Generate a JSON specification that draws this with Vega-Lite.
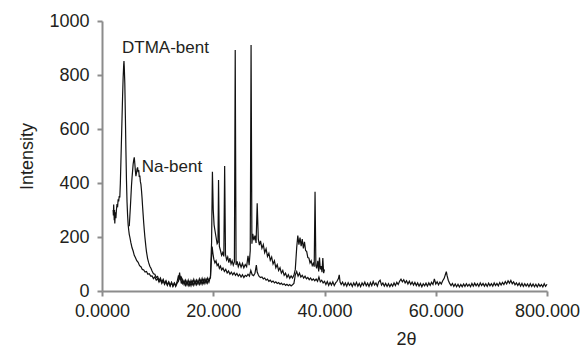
{
"$schema": "https://vega.github.io/schema/vega-lite/v6.json",
"width": 445, "height": 270,
"autosize": {"type": "none"},
"padding": {"left": 102, "top": 21, "right": 35, "bottom": 57},
"background": "white",
"config": {"view": {"stroke": null}, "font": "Liberation Sans"},
"datasets": {
"dtma": [
{"x":2.0,"y":300},{"x":2.05,"y":280},{"x":2.1,"y":320},{"x":2.2,"y":262},{"x":2.25,"y":300},{"x":2.3,"y":250},{"x":2.4,"y":292},{"x":2.5,"y":270},{"x":2.6,"y":302},{"x":2.7,"y":322},{"x":2.8,"y":310},{"x":2.9,"y":340},{"x":3.0,"y":332},{"x":3.1,"y":352},{"x":3.2,"y":346},{"x":3.3,"y":400},{"x":3.4,"y":480},{"x":3.5,"y":560},{"x":3.6,"y":640},{"x":3.7,"y":720},{"x":3.8,"y":790},{"x":3.9,"y":838},{"x":3.95,"y":852},{"x":4.0,"y":832},{"x":4.1,"y":770},{"x":4.2,"y":650},{"x":4.3,"y":520},{"x":4.4,"y":410},{"x":4.5,"y":330},{"x":4.6,"y":282},{"x":4.7,"y":246},{"x":4.8,"y":226},{"x":4.9,"y":210},{"x":5.0,"y":200},{"x":5.2,"y":178},{"x":5.4,"y":160},{"x":5.6,"y":148},{"x":5.8,"y":132},{"x":6.0,"y":124},{"x":6.25,"y":112},{"x":6.5,"y":106},{"x":6.75,"y":94},{"x":7.0,"y":90},{"x":7.25,"y":80},{"x":7.5,"y":78},{"x":7.75,"y":70},{"x":8.0,"y":72},{"x":8.25,"y":62},{"x":8.5,"y":64},{"x":8.75,"y":55},{"x":9.0,"y":56},{"x":9.25,"y":46},{"x":9.5,"y":52},{"x":9.75,"y":40},{"x":10.0,"y":46},{"x":10.25,"y":33},{"x":10.5,"y":42},{"x":10.75,"y":28},{"x":11.0,"y":38},{"x":11.25,"y":24},{"x":11.5,"y":35},{"x":11.75,"y":21},{"x":12.0,"y":32},{"x":12.25,"y":18},{"x":12.5,"y":31},{"x":12.75,"y":17},{"x":13.0,"y":30},{"x":13.25,"y":20},{"x":13.5,"y":34},{"x":13.75,"y":58},{"x":13.9,"y":45},{"x":14.1,"y":52},{"x":14.25,"y":28},{"x":14.5,"y":42},{"x":14.75,"y":24},{"x":15.0,"y":40},{"x":15.25,"y":23},{"x":15.5,"y":40},{"x":15.75,"y":22},{"x":16.0,"y":39},{"x":16.25,"y":25},{"x":16.5,"y":43},{"x":16.75,"y":26},{"x":17.0,"y":41},{"x":17.25,"y":27},{"x":17.5,"y":45},{"x":17.75,"y":28},{"x":18.0,"y":47},{"x":18.25,"y":30},{"x":18.5,"y":46},{"x":18.75,"y":31},{"x":19.0,"y":48},{"x":19.25,"y":34},{"x":19.5,"y":55},{"x":19.7,"y":180},{"x":19.85,"y":442},{"x":20.0,"y":300},{"x":20.15,"y":245},{"x":20.3,"y":225},{"x":20.5,"y":200},{"x":20.7,"y":175},{"x":20.85,"y":180},{"x":20.95,"y":411},{"x":21.1,"y":165},{"x":21.3,"y":150},{"x":21.5,"y":132},{"x":21.7,"y":142},{"x":21.9,"y":128},{"x":22.05,"y":463},{"x":22.2,"y":135},{"x":22.4,"y":115},{"x":22.6,"y":126},{"x":22.8,"y":105},{"x":23.0,"y":122},{"x":23.2,"y":100},{"x":23.4,"y":112},{"x":23.6,"y":96},{"x":23.8,"y":108},{"x":23.95,"y":893},{"x":24.1,"y":96},{"x":24.3,"y":110},{"x":24.5,"y":90},{"x":24.75,"y":104},{"x":25.0,"y":88},{"x":25.25,"y":102},{"x":25.5,"y":86},{"x":25.75,"y":98},{"x":26.0,"y":90},{"x":26.25,"y":130},{"x":26.45,"y":96},{"x":26.65,"y":150},{"x":26.8,"y":911},{"x":26.95,"y":175},{"x":27.1,"y":212},{"x":27.3,"y":188},{"x":27.5,"y":205},{"x":27.7,"y":178},{"x":27.9,"y":325},{"x":28.1,"y":192},{"x":28.3,"y":170},{"x":28.5,"y":186},{"x":28.75,"y":158},{"x":29.0,"y":172},{"x":29.25,"y":142},{"x":29.5,"y":156},{"x":29.75,"y":128},{"x":30.0,"y":140},{"x":30.25,"y":114},{"x":30.5,"y":126},{"x":30.75,"y":100},{"x":31.0,"y":112},{"x":31.25,"y":86},{"x":31.5,"y":98},{"x":31.75,"y":76},{"x":32.0,"y":86},{"x":32.25,"y":66},{"x":32.5,"y":76},{"x":32.75,"y":58},{"x":33.0,"y":66},{"x":33.25,"y":50},{"x":33.5,"y":60},{"x":33.75,"y":47},{"x":34.0,"y":56},{"x":34.25,"y":48},{"x":34.5,"y":58},{"x":34.75,"y":80},{"x":35.0,"y":160},{"x":35.2,"y":205},{"x":35.4,"y":172},{"x":35.6,"y":198},{"x":35.8,"y":166},{"x":36.0,"y":192},{"x":36.2,"y":158},{"x":36.4,"y":182},{"x":36.6,"y":150},{"x":36.8,"y":146},{"x":37.0,"y":124},{"x":37.2,"y":122},{"x":37.4,"y":104},{"x":37.6,"y":112},{"x":37.8,"y":94},{"x":38.0,"y":102},{"x":38.15,"y":90},{"x":38.3,"y":368},{"x":38.45,"y":94},{"x":38.6,"y":84},{"x":38.8,"y":112},{"x":38.95,"y":72},{"x":39.1,"y":124},{"x":39.25,"y":80},{"x":39.4,"y":92},{"x":39.55,"y":70},{"x":39.7,"y":122},{"x":39.85,"y":66},{"x":40.0,"y":80}
],
"na": [
{"x":4.9,"y":240},{"x":5.0,"y":275},{"x":5.1,"y":310},{"x":5.2,"y":350},{"x":5.3,"y":390},{"x":5.4,"y":420},{"x":5.5,"y":445},{"x":5.6,"y":470},{"x":5.7,"y":485},{"x":5.8,"y":495},{"x":5.9,"y":472},{"x":6.0,"y":445},{"x":6.1,"y":425},{"x":6.2,"y":438},{"x":6.3,"y":452},{"x":6.4,"y":458},{"x":6.5,"y":440},{"x":6.6,"y":448},{"x":6.7,"y":422},{"x":6.8,"y":428},{"x":6.9,"y":405},{"x":7.0,"y":395},{"x":7.1,"y":372},{"x":7.2,"y":345},{"x":7.3,"y":312},{"x":7.4,"y":282},{"x":7.5,"y":252},{"x":7.6,"y":226},{"x":7.7,"y":202},{"x":7.8,"y":182},{"x":7.9,"y":162},{"x":8.0,"y":145},{"x":8.2,"y":120},{"x":8.4,"y":104},{"x":8.6,"y":92},{"x":8.8,"y":84},{"x":9.0,"y":74},{"x":9.25,"y":64},{"x":9.5,"y":62},{"x":9.75,"y":50},{"x":10.0,"y":54},{"x":10.25,"y":39},{"x":10.5,"y":48},{"x":10.75,"y":33},{"x":11.0,"y":43},{"x":11.25,"y":28},{"x":11.5,"y":38},{"x":11.75,"y":23},{"x":12.0,"y":34},{"x":12.25,"y":20},{"x":12.5,"y":32},{"x":12.75,"y":18},{"x":13.0,"y":29},{"x":13.25,"y":17},{"x":13.5,"y":29},{"x":13.75,"y":36},{"x":13.95,"y":68},{"x":14.1,"y":40},{"x":14.3,"y":50},{"x":14.5,"y":28},{"x":14.75,"y":38},{"x":15.0,"y":21},{"x":15.25,"y":36},{"x":15.5,"y":20},{"x":15.75,"y":34},{"x":16.0,"y":19},{"x":16.25,"y":36},{"x":16.5,"y":21},{"x":16.75,"y":37},{"x":17.0,"y":23},{"x":17.25,"y":38},{"x":17.5,"y":24},{"x":17.75,"y":40},{"x":18.0,"y":25},{"x":18.25,"y":41},{"x":18.5,"y":27},{"x":18.75,"y":43},{"x":19.0,"y":29},{"x":19.25,"y":44},{"x":19.5,"y":48},{"x":19.65,"y":110},{"x":19.8,"y":165},{"x":19.95,"y":138},{"x":20.1,"y":118},{"x":20.3,"y":104},{"x":20.5,"y":112},{"x":20.7,"y":94},{"x":20.9,"y":100},{"x":21.1,"y":84},{"x":21.3,"y":92},{"x":21.5,"y":78},{"x":21.75,"y":85},{"x":22.0,"y":72},{"x":22.25,"y":80},{"x":22.5,"y":67},{"x":22.75,"y":74},{"x":23.0,"y":62},{"x":23.25,"y":70},{"x":23.5,"y":60},{"x":23.75,"y":68},{"x":24.0,"y":58},{"x":24.25,"y":65},{"x":24.5,"y":55},{"x":24.75,"y":62},{"x":25.0,"y":52},{"x":25.25,"y":60},{"x":25.5,"y":50},{"x":25.75,"y":58},{"x":26.0,"y":54},{"x":26.25,"y":62},{"x":26.5,"y":55},{"x":26.75,"y":76},{"x":27.0,"y":60},{"x":27.25,"y":57},{"x":27.5,"y":66},{"x":27.75,"y":96},{"x":27.9,"y":70},{"x":28.1,"y":60},{"x":28.25,"y":54},{"x":28.5,"y":50},{"x":28.75,"y":52},{"x":29.0,"y":45},{"x":29.25,"y":48},{"x":29.5,"y":40},{"x":29.75,"y":44},{"x":30.0,"y":36},{"x":30.25,"y":40},{"x":30.5,"y":33},{"x":30.75,"y":37},{"x":31.0,"y":30},{"x":31.25,"y":34},{"x":31.5,"y":28},{"x":31.75,"y":31},{"x":32.0,"y":25},{"x":32.25,"y":29},{"x":32.5,"y":23},{"x":32.75,"y":27},{"x":33.0,"y":21},{"x":33.25,"y":25},{"x":33.5,"y":20},{"x":33.75,"y":24},{"x":34.0,"y":19},{"x":34.25,"y":23},{"x":34.5,"y":28},{"x":34.75,"y":60},{"x":35.0,"y":72},{"x":35.25,"y":55},{"x":35.5,"y":66},{"x":35.75,"y":52},{"x":36.0,"y":58},{"x":36.25,"y":48},{"x":36.5,"y":55},{"x":36.75,"y":45},{"x":37.0,"y":50},{"x":37.25,"y":42},{"x":37.5,"y":48},{"x":37.75,"y":40},{"x":38.0,"y":45},{"x":38.25,"y":38},{"x":38.5,"y":44},{"x":38.75,"y":36},{"x":39.0,"y":52},{"x":39.25,"y":34},{"x":39.5,"y":40},{"x":39.75,"y":30},{"x":40.0,"y":36},
{"x":40.25,"y":24},{"x":40.5,"y":35},{"x":40.75,"y":21},{"x":41.0,"y":32},{"x":41.25,"y":22},{"x":41.5,"y":34},{"x":41.75,"y":20},{"x":42.0,"y":30},{"x":42.25,"y":36},{"x":42.5,"y":46},{"x":42.65,"y":60},{"x":42.8,"y":33},{"x":43.0,"y":24},{"x":43.25,"y":33},{"x":43.5,"y":20},{"x":43.75,"y":30},{"x":44.0,"y":18},{"x":44.25,"y":31},{"x":44.5,"y":21},{"x":44.75,"y":29},{"x":45.0,"y":17},{"x":45.25,"y":30},{"x":45.5,"y":20},{"x":45.75,"y":32},{"x":46.0,"y":18},{"x":46.25,"y":28},{"x":46.5,"y":16},{"x":46.75,"y":30},{"x":47.0,"y":21},{"x":47.25,"y":33},{"x":47.5,"y":19},{"x":47.75,"y":29},{"x":48.0,"y":17},{"x":48.25,"y":31},{"x":48.5,"y":20},{"x":48.75,"y":35},{"x":49.0,"y":22},{"x":49.25,"y":30},{"x":49.5,"y":18},{"x":49.75,"y":34},{"x":50.0,"y":40},{"x":50.25,"y":22},{"x":50.5,"y":30},{"x":50.75,"y":18},{"x":51.0,"y":28},{"x":51.25,"y":17},{"x":51.5,"y":27},{"x":51.75,"y":16},{"x":52.0,"y":26},{"x":52.25,"y":18},{"x":52.5,"y":30},{"x":52.75,"y":20},{"x":53.0,"y":32},{"x":53.25,"y":24},{"x":53.5,"y":36},{"x":53.75,"y":44},{"x":54.0,"y":34},{"x":54.25,"y":42},{"x":54.5,"y":30},{"x":54.75,"y":38},{"x":55.0,"y":26},{"x":55.25,"y":36},{"x":55.5,"y":24},{"x":55.75,"y":33},{"x":56.0,"y":22},{"x":56.25,"y":32},{"x":56.5,"y":20},{"x":56.75,"y":30},{"x":57.0,"y":18},{"x":57.25,"y":28},{"x":57.5,"y":16},{"x":57.75,"y":27},{"x":58.0,"y":19},{"x":58.25,"y":29},{"x":58.5,"y":18},{"x":58.75,"y":30},{"x":59.0,"y":21},{"x":59.25,"y":32},{"x":59.5,"y":24},{"x":59.75,"y":45},{"x":60.0,"y":26},{"x":60.25,"y":34},{"x":60.5,"y":23},{"x":60.75,"y":33},{"x":61.0,"y":26},{"x":61.25,"y":38},{"x":61.5,"y":46},{"x":61.75,"y":62},{"x":61.9,"y":72},{"x":62.05,"y":56},{"x":62.25,"y":40},{"x":62.5,"y":28},{"x":62.75,"y":20},{"x":63.0,"y":28},{"x":63.25,"y":17},{"x":63.5,"y":26},{"x":63.75,"y":16},{"x":64.0,"y":25},{"x":64.25,"y":15},{"x":64.5,"y":24},{"x":64.75,"y":16},{"x":65.0,"y":26},{"x":65.25,"y":17},{"x":65.5,"y":27},{"x":65.75,"y":18},{"x":66.0,"y":25},{"x":66.25,"y":16},{"x":66.5,"y":28},{"x":66.75,"y":18},{"x":67.0,"y":29},{"x":67.25,"y":19},{"x":67.5,"y":27},{"x":67.75,"y":17},{"x":68.0,"y":30},{"x":68.25,"y":20},{"x":68.5,"y":28},{"x":68.75,"y":18},{"x":69.0,"y":27},{"x":69.25,"y":17},{"x":69.5,"y":29},{"x":69.75,"y":19},{"x":70.0,"y":27},{"x":70.25,"y":18},{"x":70.5,"y":30},{"x":70.75,"y":20},{"x":71.0,"y":28},{"x":71.25,"y":19},{"x":71.5,"y":31},{"x":71.75,"y":22},{"x":72.0,"y":32},{"x":72.25,"y":24},{"x":72.5,"y":35},{"x":72.75,"y":26},{"x":73.0,"y":38},{"x":73.25,"y":29},{"x":73.5,"y":39},{"x":73.75,"y":27},{"x":74.0,"y":34},{"x":74.25,"y":23},{"x":74.5,"y":30},{"x":74.75,"y":20},{"x":75.0,"y":29},{"x":75.25,"y":18},{"x":75.5,"y":28},{"x":75.75,"y":17},{"x":76.0,"y":27},{"x":76.25,"y":18},{"x":76.5,"y":26},{"x":76.75,"y":16},{"x":77.0,"y":27},{"x":77.25,"y":17},{"x":77.5,"y":26},{"x":77.75,"y":16},{"x":78.0,"y":25},{"x":78.25,"y":15},{"x":78.5,"y":26},{"x":78.75,"y":17},{"x":79.0,"y":24},{"x":79.25,"y":15},{"x":79.5,"y":27},{"x":79.75,"y":17},{"x":80.0,"y":25}
],
"labels": [
{"x":3.6,"y":881,"label":"DTMA-bent"},
{"x":7.13,"y":441,"label":"Na-bent"}
]
},
"encoding": {
"x": {"field": "x", "type": "quantitative",
  "scale": {"domain": [0, 80], "nice": false, "zero": false},
  "axis": {"values": [0, 20, 40, 60, 80],
    "labelExpr": "datum.value == 0 ? '0.0000' : datum.value == 80 ? '800.000' : format(datum.value, '.3f')",
    "title": "2θ", "grid": false, "labelFlush": false, "labelOverlap": false,
    "domainColor": "#8c8c8c", "domainWidth": 2, "tickColor": "#8c8c8c", "tickWidth": 2, "tickSize": 5,
    "labelFont": "Liberation Sans", "labelFontSize": 18, "labelColor": "#231f20", "labelPadding": 6,
    "titleFont": "Liberation Sans", "titleFontSize": 18, "titleFontWeight": "normal", "titleColor": "#231f20",
    "titleX": 304, "titleY": 53, "titleBaseline": "alphabetic", "titleAlign": "center"}},
"y": {"field": "y", "type": "quantitative",
  "scale": {"domain": [0, 1000], "nice": false},
  "axis": {"values": [0, 200, 400, 600, 800, 1000], "format": "d",
    "title": "Intensity", "grid": false, "labelOverlap": false,
    "domainColor": "#8c8c8c", "domainWidth": 2, "tickColor": "#8c8c8c", "tickWidth": 2, "tickSize": 5,
    "labelFont": "Liberation Sans", "labelFontSize": 18, "labelColor": "#231f20", "labelPadding": 8,
    "titleFont": "Liberation Sans", "titleFontSize": 18, "titleFontWeight": "normal", "titleColor": "#231f20",
    "titleX": -70, "titleY": 135, "titleBaseline": "alphabetic", "titleAlign": "center"}}
},
"layer": [
{"data": {"name": "dtma"}, "mark": {"type": "line", "color": "#111111", "strokeWidth": 1.2, "interpolate": "linear"}},
{"data": {"name": "na"}, "mark": {"type": "line", "color": "#111111", "strokeWidth": 1.2, "interpolate": "linear"}},
{"data": {"name": "labels"}, "mark": {"type": "text", "align": "left", "baseline": "alphabetic", "fontSize": 17, "font": "Liberation Sans", "color": "#231f20"},
 "encoding": {"text": {"field": "label", "type": "nominal"}}}
]
}
